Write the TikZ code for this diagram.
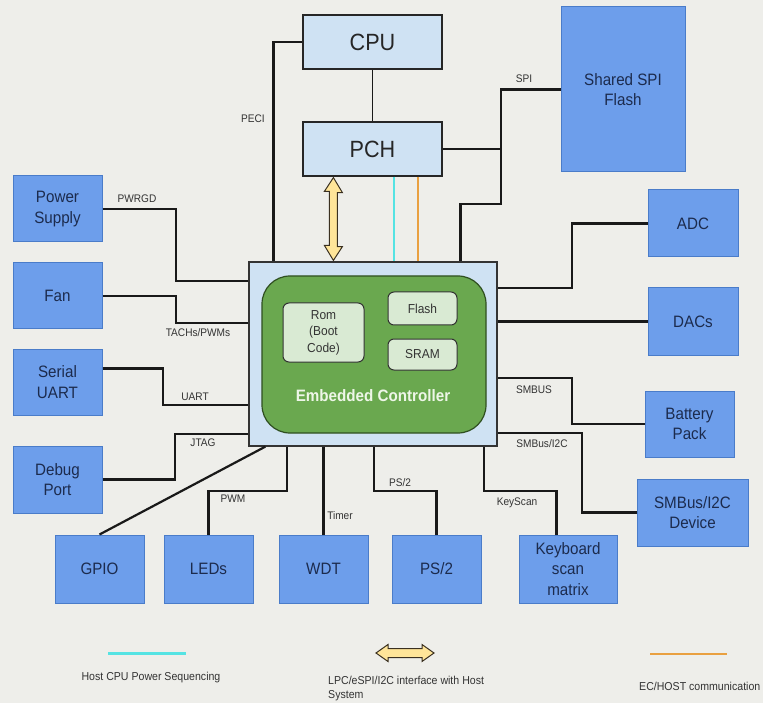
\documentclass[tikz,border=0pt]{standalone}
\usepackage{fontspec}
\setmainfont{Liberation Sans}[FakeStretch=0.92]
\usetikzlibrary{calc}
\definecolor{bg}{HTML}{EEEEEA}
\definecolor{boxblue}{HTML}{6D9EEB}
\definecolor{boxblueline}{HTML}{4A7CC9}
\definecolor{lightblue}{HTML}{CFE2F3}
\definecolor{ecgreen}{HTML}{6AA84F}
\definecolor{ecgreenline}{HTML}{2F4F20}
\definecolor{palegreen}{HTML}{D9EAD3}
\definecolor{navytext}{HTML}{1C2B4D}
\definecolor{labelgray}{HTML}{333333}
\definecolor{hostcyan}{HTML}{55E3E3}
\definecolor{hostorange}{HTML}{E9A040}
\definecolor{arrowyellow}{HTML}{FFE599}
\definecolor{arrowline}{HTML}{3A3020}
\definecolor{ectext}{HTML}{EEF6E8}
\begin{document}
\begin{tikzpicture}[x=1pt,y=-1pt,
  blk/.style={draw=boxblueline, line width=1pt, fill=boxblue, text=navytext,
    font=\fontsize{16.5}{20.5}\selectfont, align=center, inner sep=0pt},
  hostbox/.style={draw=black!85, line width=1.2pt, fill=lightblue, text=black!85,
    font=\fontsize{23.5}{26}\selectfont, inner sep=0pt,
    minimum width=139pt, minimum height=54pt},
  ecbox/.style={draw=black!80, line width=1.2pt, fill=lightblue, inner sep=0pt},
  ecgbox/.style={draw=ecgreenline, line width=1.2pt, fill=ecgreen, rounded corners=28pt, inner sep=0pt},
  mem/.style={draw=black!80, line width=1pt, fill=palegreen, rounded corners=6pt,
    font=\fontsize{13}{16.5}\selectfont, text=black!80, align=center, inner sep=0pt},
  wire/.style={draw=black!90, line width=2.2pt},
  thinwire/.style={draw=black!90, line width=1pt},
  cyanw/.style={draw=hostcyan, line width=2pt},
  orangew/.style={draw=hostorange, line width=2pt},
  lbl/.style={text=labelgray, font=\fontsize{11}{13}\selectfont, inner sep=0pt},
  legtext/.style={text=labelgray, font=\fontsize{11.5}{14}\selectfont, inner sep=0pt},
  yarrow/.style={draw=arrowline, line width=1pt, fill=arrowyellow, line join=miter}
]
\fill[bg] (0,0) rectangle (763,703);
\useasboundingbox (0,0) rectangle (763,703);

% host side
\node[hostbox] (cpu) at (372.5,42) {CPU};
\node[hostbox] (pch) at (372.5,149) {PCH};
\node[blk, minimum width=124pt, minimum height=165pt] (spi) at (623,89.5) {Shared SPI\\Flash};

% right column
\node[blk, minimum width=90pt, minimum height=67pt] (adc) at (693,223.5) {ADC};
\node[blk, minimum width=90pt, minimum height=67pt] (dac) at (693,321.5) {DACs};
\node[blk, minimum width=89pt, minimum height=66pt] (bat) at (689.5,424) {Battery\\Pack};
\node[blk, minimum width=111pt, minimum height=67pt] (smb) at (692.5,512.5) {SMBus/I2C\\Device};

% bottom row
\node[blk, minimum width=98pt, minimum height=68pt] (kbd) at (568,569) {Keyboard\\scan\\matrix};
\node[blk, minimum width=89pt, minimum height=68pt] (ps2) at (436.5,569) {PS/2};
\node[blk, minimum width=89pt, minimum height=68pt] (wdt) at (323.5,569) {WDT};
\node[blk, minimum width=89pt, minimum height=68pt] (led) at (208.5,569) {LEDs};
\node[blk, minimum width=89pt, minimum height=68pt] (gpio) at (99.5,569) {GPIO};

% left column
\node[blk, minimum width=89pt, minimum height=66pt] (psu) at (57.5,209) {Power\\Supply};
\node[blk, minimum width=89pt, minimum height=66pt] (fan) at (57.5,296) {Fan};
\node[blk, minimum width=89pt, minimum height=66pt] (uart) at (57.5,382) {Serial\\UART};
\node[blk, minimum width=89pt, minimum height=67pt] (dbg) at (57.5,479.5) {Debug\\Port};

% embedded controller
\node[ecbox, minimum width=248pt, minimum height=184pt] (ec) at (373,354) {};
\node[ecgbox, minimum width=224pt, minimum height=157pt] (ecg) at (374,354.5) {};
\node[mem, minimum width=81pt, minimum height=59pt] (rom) at (323.5,332.5) {Rom\\(Boot\\Code)};
\node[mem, minimum width=69pt, minimum height=33pt] (fl) at (422.5,308.5) {Flash};
\node[mem, minimum width=69pt, minimum height=31pt] (sram) at (422.5,354.5) {SRAM};
\node[text=ectext, font=\bfseries\fontsize{16.5}{19}\selectfont, inner sep=0pt] (ectxt) at (373,396) {Embedded Controller};

% connectors
\draw[thinwire] (cpu.south) -- (pch.north);
\draw[wire] (cpu.west) -| ($(ec.north west)+(25,0)$);
\draw[wire] (pch.east) -- (pch.east -| 501,0);
\draw[wire] (spi.west) -| (501,204) -| ($(ec.north west)+(212,0)$);
\draw[wire] (adc.west) -| (572,288) -- (ec.east |- 0,288);
\draw[wire] (dac.west) -- (ec.east |- dac.west);
\draw[wire] (bat.west) -| (572,378) -- (ec.east |- 0,378);
\draw[wire] (smb.west) -| (582,433) -- (ec.east |- 0,433);
\draw[wire] ($(kbd.north west)+(38,0)$) |- (484,491) -- (ec.south -| 484,0);
\draw[wire] (ps2.north) |- (374,491) -- (ec.south -| 374,0);
\draw[wire] (wdt.north) -- (ec.south -| wdt.north);
\draw[wire] (led.north) |- (287,491) -- (ec.south -| 287,0);
\draw[wire] (gpio.north) -- ($(ec.south west)+(17,0)$);
\draw[wire] (psu.east) -| (176,281) -- (ec.west |- 0,281);
\draw[wire] (fan.east) -| (176,323) -- (ec.west |- 0,323);
\draw[wire] ($(uart.north east)+(0,20)$) -| (163,405) -- (ec.west |- 0,405);
\draw[wire] (dbg.east) -| (175,434) -- (ec.west |- 0,434);

\draw[cyanw] (pch.south -| 394,0) -- (ec.north -| 394,0);
\draw[orangew] (pch.south -| 418,0) -- (ec.north -| 418,0);

% host interface double arrow
\coordinate (ya) at ($(pch.south west)+(31,1)$);
\coordinate (yb) at ($(ec.north west)+(85,-1)$);
\draw[yarrow] (ya) -- ++(9,15) -- ++(-5,0) -- ++(0,54) -- ++(5,0) -- (yb)
  -- ++(-9,-15) -- ++(5,0) -- ++(0,-54) -- ++(-5,0) -- cycle;

% connector labels
\node[lbl] (lpeci) at (253,119) {PECI};
\node[lbl] (lspi) at (524,79) {SPI};
\node[lbl] (lpwrgd) at (137,199) {PWRGD};
\node[lbl] (ltach) at (198,333) {TACHs/PWMs};
\node[lbl] (luart) at (195,397) {UART};
\node[lbl] (ljtag) at (203,443) {JTAG};
\node[lbl] (lpwm) at (233,499) {PWM};
\node[lbl] (ltimer) at (340,516) {Timer};
\node[lbl] (lps2) at (400,483) {PS/2};
\node[lbl] (lkey) at (517,503) {KeyScan};
\node[lbl] (lsmbus) at (534,390) {SMBUS};
\node[lbl] (lsmbi2c) at (542,444) {SMBus/I2C};

% legend
\coordinate (lc1) at (108,653);
\coordinate (lc2) at (186,653);
\draw[cyanw, line width=3pt] (lc1) -- (lc2);
\node[legtext] (lgc) at (151,678) {Host CPU Power Sequencing};

\coordinate (la) at (376,653);
\coordinate (lb) at (434,653);
\draw[yarrow] (la) -- ++(12,-8.5) -- ++(0,4) -- ++(34,0) -- ++(0,-4) -- (lb)
  -- ++(-12,8.5) -- ++(0,-4) -- ++(-34,0) -- ++(0,4) -- cycle;
\node[legtext, anchor=north west, align=left] (lgy) at (328,676) {LPC/eSPI/I2C interface with Host\\System};

\coordinate (lo1) at (650,654);
\coordinate (lo2) at (727,654);
\draw[orangew, line width=2.5pt] (lo1) -- (lo2);
\node[legtext, anchor=west] (lgo) at (639,686) {EC/HOST communication};
\end{tikzpicture}
\end{document}
